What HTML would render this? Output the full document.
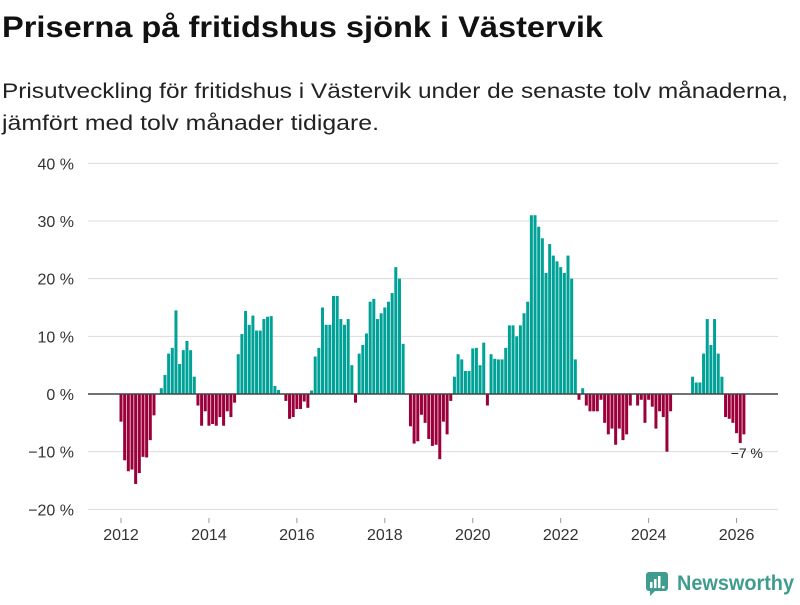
<!DOCTYPE html>
<html><head><meta charset="utf-8">
<style>
body{margin:0;background:#fff;width:800px;height:600px;overflow:hidden;font-family:"Liberation Sans","DejaVu Sans",sans-serif;}
</style></head>
<body>
<svg width="800" height="600" xmlns="http://www.w3.org/2000/svg">
<text x="2" y="37" font-size="30" font-weight="bold" fill="#111" textLength="601" lengthAdjust="spacingAndGlyphs">Priserna på fritidshus sjönk i Västervik</text>
<text x="2" y="98" font-size="21.5" fill="#222" textLength="786" lengthAdjust="spacingAndGlyphs">Prisutveckling för fritidshus i Västervik under de senaste tolv månaderna,</text>
<text x="2" y="130" font-size="21.5" fill="#222" textLength="377" lengthAdjust="spacingAndGlyphs">jämfört med tolv månader tidigare.</text>
<g id="grid"></g>
<g id="bars"></g>
<g id="axis"></g>
<text x="763" y="458" font-size="14" fill="#222" text-anchor="end">−7 %</text>
<g>
<rect x="646" y="572" width="22" height="19" rx="3" fill="#3f9c8f"/>
<polygon points="650,590 656,590 650,596" fill="#3f9c8f"/>
<rect x="650" y="582" width="2.5" height="6" fill="#fff"/><rect x="654" y="579" width="2.5" height="9" fill="#fff"/><rect x="658" y="576" width="2.5" height="12" fill="#fff"/><rect x="662" y="586" width="2.5" height="2.5" fill="#fff"/>
<text x="677" y="590" font-size="21" font-weight="bold" fill="#3f9c8f" textLength="117" lengthAdjust="spacingAndGlyphs">Newsworthy</text>
</g>
</svg>
<script>
const values = [
-4.8,-11.5,-13.4,-13.1,-15.6,-13.7,-10.9,-11,-8,-3.7,0,1,
3.3,7,8,14.5,5.2,7.6,9.2,7.6,3,-2,-5.5,-3,
-5.5,-5.2,-5.5,-4,-5.5,-3,-4,-1.5,6.9,10.4,14.4,12,
13.6,11,11,13,13.4,13.5,1.4,0.7,0,-1.2,-4.3,-4,
-2.6,-2.6,-1.3,-2.4,0.6,6.5,8,15,12,12,17,17,
13,12,13,5,-1.5,7,8.5,10.5,16,16.5,13,14,
15,16,17.5,22,20,8.7,0,-5.6,-8.6,-8.2,-3.6,-5,
-7.8,-9,-8.8,-11.3,-4.8,-7,-1.2,3,6.9,6,4,4,
7.9,8,5,8.9,-2,6.9,6.1,6,6,8,11.9,11.9,
10,11.9,14,16,31,31,29,27,21,26,24,23,
22,21,24,20,6,-1,1,-2,-3,-3,-3,-1,
-5,-7,-6,-8.8,-6,-8,-7,-2,0,-2,-1,-5,
-1,-2.2,-6,-3,-4,-10,-3,0,0,0,0,0,
3,2,2,7,13,8.5,13,7,3,-4,-4.3,-5,
-6.8,-8.5,-7
];
const startYear = 2012;
const yTicks = [40,30,20,10,0,-10,-20];
const yTickLabels = ["40 %","30 %","20 %","10 %","0 %","−10 %","−20 %"];
const xTicks = [2012,2014,2016,2018,2020,2022,2024,2026];

const NS="http://www.w3.org/2000/svg";
function y(v){return 394 - v*5.767;}
function xm(i){return 121 + i*3.664;}
function xYear(yr){return xm((yr-startYear)*12);}
function mk(tag,attrs,parent){const e=document.createElementNS(NS,tag);for(const k in attrs)e.setAttribute(k,attrs[k]);parent.appendChild(e);return e;}
const grid=document.getElementById('grid'),bars=document.getElementById('bars'),axis=document.getElementById('axis');
yTicks.forEach((t,k)=>{
  if(t!==0){const l=mk('line',{x1:88,x2:778,y1:y(t),y2:y(t),stroke:'#dcdcdc','stroke-width':1},grid);
  
  }
  const tx=mk('text',{x:74,y:y(t)+6,'font-size':16,fill:'#333','text-anchor':'end'},axis);
  tx.textContent=yTickLabels[k];
  
  
});
values.forEach((v,i)=>{
  if(v===0)return;
  const top=Math.min(y(v),y(0)),h=Math.abs(y(v)-y(0));
  const r=mk('rect',{x:xm(i)-1.5,y:top,width:3,height:h,fill:v>0?'#00a197':'#9b003b'},bars);
  
  
});
const zl=mk('line',{x1:88,x2:778,y1:y(0),y2:y(0),stroke:'#444','stroke-width':1.5},axis);


xTicks.forEach(yr=>{
  const t=mk('line',{x1:xYear(yr),x2:xYear(yr),y1:518,y2:523,stroke:'#999'},axis);
  
  
  const tx=mk('text',{x:xYear(yr),y:540,'font-size':16,fill:'#333','text-anchor':'middle'},axis);
  tx.textContent=yr;
  
  
});
</script>
</body></html>
